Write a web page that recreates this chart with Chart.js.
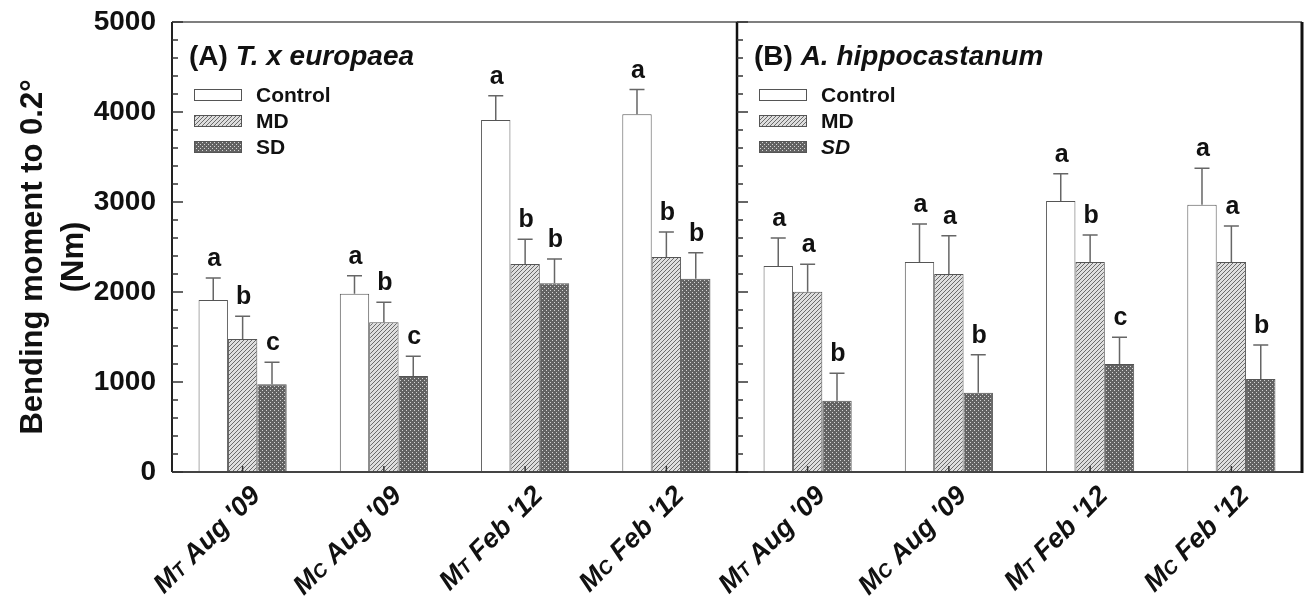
<!DOCTYPE html>
<html lang="en">
<head>
  <meta charset="UTF-8">
  <title>Bending moment to 0.2°</title>
  <script src="https://cdn.jsdelivr.net/npm/chart.js@4"></script>
  <style>
    body { margin: 0; background: #fff; }
    #chart { display: block; }
  </style>
</head>
<body>
  <canvas id="chart" width="1308" height="608"></canvas>

  <script>
    const FONT = '"Liberation Sans", Arial, sans-serif';

    // categories are the same in both panels
    const categories = ["MT Aug '09", "MC Aug '09", "MT Feb '12", "MC Feb '12"];
    const panelTitles = [["(A) ", "T. x europaea"], ["(B) ", "A. hippocastanum"]];
    const seriesNames = ['Control', 'MD', 'SD'];
    const yMajorTicks = [0, 1000, 2000, 3000, 4000, 5000];

    // (A) T. x europaea : means, standard errors, letters
    const controlA = [1910, 1980, 3910, 3975];
    const controlA_se = [245, 200, 270, 275];
    const controlA_letters = ['a', 'a', 'a', 'a'];
    const mdA = [1478, 1665, 2311, 2390];
    const mdA_se = [252, 220, 274, 277];
    const mdA_letters = ['b', 'b', 'b', 'b'];
    const sdA = [975, 1068, 2096, 2146];
    const sdA_se = [245, 217, 271, 289];
    const sdA_letters = ['c', 'c', 'b', 'b'];

    // (B) A. hippocastanum
    const controlB = [2290, 2333, 3011, 2970];
    const controlB_se = [310, 422, 302, 405];
    const controlB_letters = ['a', 'a', 'a', 'a'];
    const mdB = [2002, 2200, 2333, 2333];
    const mdB_se = [307, 424, 299, 399];
    const mdB_letters = ['a', 'a', 'b', 'a'];
    const sdB = [791, 880, 1200, 1032];
    const sdB_se = [307, 422, 298, 379];
    const sdB_letters = ['b', 'b', 'c', 'b'];

    function makePattern(kind) {
      const c = document.createElement('canvas');
      c.width = 4; c.height = 4;
      const g = c.getContext('2d');
      if (kind === 'md') {
        g.fillStyle = '#dedede';
        g.fillRect(0, 0, 4, 4);
        g.fillStyle = '#6a6a6a';
        for (let k = 0; k < 4; k++) g.fillRect(k, 3 - k, 1, 1);
      } else {
        g.fillStyle = '#626262';
        g.fillRect(0, 0, 4, 4);
        g.fillStyle = '#d4d4d4';
        g.fillRect(0, 0, 1, 1);
        g.fillRect(2, 2, 1, 1);
      }
      return g.createPattern(c, 'repeat');
    }

    const fills = ['#ffffff', makePattern('md'), makePattern('sd')];

    function line(ctx, x1, y1, x2, y2, w, color) {
      ctx.lineWidth = w;
      ctx.strokeStyle = color;
      ctx.beginPath();
      ctx.moveTo(x1, y1);
      ctx.lineTo(x2, y2);
      ctx.stroke();
    }

    const decor = {
      id: 'decor',
      afterDatasetsDraw(chart) {
        const { ctx, chartArea: a, scales: { x, y } } = chart;
        const mid = (x.getPixelForValue(3) + x.getPixelForValue(4)) / 2;
        ctx.save();

        // error bars and letters
        chart.data.datasets.forEach((ds, di) => {
          chart.getDatasetMeta(di).data.forEach((bar, i) => {
            const top = y.getPixelForValue(ds.data[i] + ds.se[i]);
            ctx.lineWidth = 1.5;
            ctx.strokeStyle = '#666';
            ctx.beginPath();
            ctx.moveTo(bar.x, bar.y);
            ctx.lineTo(bar.x, top);
            ctx.moveTo(bar.x - 7.5, top);
            ctx.lineTo(bar.x + 7.5, top);
            ctx.stroke();
            ctx.fillStyle = '#111';
            ctx.font = 'bold 25px ' + FONT;
            ctx.textAlign = 'center';
            ctx.textBaseline = 'alphabetic';
            ctx.fillText(ds.letters[i], bar.x + 1, top - 12);
          });
        });

        // frame and panel divider
        line(ctx, a.left, a.top, a.right, a.top, 1.5, '#555');
        line(ctx, a.left, a.bottom, a.right, a.bottom, 2, '#444');
        line(ctx, a.left, a.top, a.left, a.bottom, 2, '#222');
        line(ctx, a.right, a.top, a.right, a.bottom + 1, 3, '#111');
        line(ctx, mid, a.top, mid, a.bottom + 1, 2.5, '#111');

        // inward y ticks on both panels
        y.ticks.forEach(t => {
          const py = y.getPixelForValue(t.value);
          const len = yMajorTicks.includes(t.value) ? 11 : 6;
          [a.left, mid].forEach(px => line(ctx, px, py, px + len, py, 1.5, '#333'));
        });
        // inward x ticks
        x.ticks.forEach((t, i) => {
          const px = x.getPixelForValue(i);
          line(ctx, px, a.bottom, px, a.bottom - 6, 1.5, '#333');
        });

        // panel titles and legends
        [a.left, mid].forEach((px, p) => {
          ctx.fillStyle = '#111';
          ctx.textAlign = 'left';
          ctx.textBaseline = 'alphabetic';
          ctx.font = 'bold 28px ' + FONT;
          ctx.fillText(panelTitles[p][0], px + 17, a.top + 43);
          const w0 = ctx.measureText(panelTitles[p][0]).width;
          ctx.font = 'italic bold 28px ' + FONT;
          ctx.fillText(panelTitles[p][1], px + 17 + w0, a.top + 43);

          seriesNames.forEach((name, s) => {
            const cy = a.top + 73 + s * 26;
            ctx.fillStyle = fills[s];
            ctx.fillRect(px + 22, cy - 6, 48, 12);
            ctx.lineWidth = 1;
            ctx.strokeStyle = '#555';
            ctx.strokeRect(px + 22.5, cy - 5.5, 47, 11);
            ctx.fillStyle = '#111';
            ctx.font = (p === 1 && s === 2 ? 'italic ' : '') + 'bold 21px ' + FONT;
            ctx.textBaseline = 'middle';
            ctx.fillText(name, px + 84, cy + 1);
          });
        });

        // rotated category labels (second letter as small capital)
        chart.data.labels.forEach((lab, i) => {
          const px = x.getPixelForValue(i);
          const parts = [[lab[0], 27], [lab[1], 19], [lab.slice(2), 27]];
          ctx.save();
          ctx.translate(px + 19, a.bottom + 25);
          ctx.rotate(-Math.PI / 4);
          ctx.fillStyle = '#111';
          ctx.textAlign = 'left';
          ctx.textBaseline = 'alphabetic';
          let total = 0;
          parts.forEach(([t, sz]) => {
            ctx.font = 'italic bold ' + sz + 'px ' + FONT;
            total += ctx.measureText(t).width;
          });
          let cx = -total;
          parts.forEach(([t, sz]) => {
            ctx.font = 'italic bold ' + sz + 'px ' + FONT;
            ctx.fillText(t, cx, 0);
            cx += ctx.measureText(t).width;
          });
          ctx.restore();
        });

        // y axis title
        ctx.font = 'bold 31px ' + FONT;
        ctx.fillStyle = '#111';
        ctx.textAlign = 'center';
        ctx.textBaseline = 'middle';
        [['Bending moment to 0.2°', 33], ['(Nm)', 74]].forEach(([t, tx]) => {
          ctx.save();
          ctx.translate(tx, 257);
          ctx.rotate(-Math.PI / 2);
          ctx.fillText(t, 0, 0);
          ctx.restore();
        });

        ctx.restore();
      }
    };

    const labels = [...categories, ...categories];

    new Chart(document.getElementById('chart'), {
      type: 'bar',
      data: {
        labels: labels,
        datasets: [
          { label: seriesNames[0], data: [...controlA, ...controlB], se: [...controlA_se, ...controlB_se],
            letters: [...controlA_letters, ...controlB_letters], backgroundColor: fills[0] },
          { label: seriesNames[1], data: [...mdA, ...mdB], se: [...mdA_se, ...mdB_se],
            letters: [...mdA_letters, ...mdB_letters], backgroundColor: fills[1] },
          { label: seriesNames[2], data: [...sdA, ...sdB], se: [...sdA_se, ...sdB_se],
            letters: [...sdA_letters, ...sdB_letters], backgroundColor: fills[2] }
        ].map(ds => Object.assign(ds, {
          borderColor: '#555', borderWidth: 1, barPercentage: 1, categoryPercentage: 0.624
        }))
      },
      options: {
        responsive: false,
        animation: false,
        layout: { padding: { top: 22, right: 6, left: 0, bottom: 0 } },
        plugins: { legend: { display: false }, tooltip: { enabled: false } },
        scales: {
          x: {
            grid: { display: false, drawTicks: false },
            border: { display: false },
            ticks: { display: false },
            afterFit: s => { s.height = 136; s.paddingLeft = 0; s.paddingRight = 0; }
          },
          y: {
            min: 0,
            max: 5000,
            grid: { display: false, drawTicks: false },
            border: { display: false },
            ticks: {
              stepSize: 200,
              autoSkip: false,
              padding: 16,
              color: '#111',
              font: { family: FONT, size: 28, weight: 'bold' },
              callback: v => yMajorTicks.includes(v) ? v : ''
            },
            afterFit: s => { s.width = 172; s.paddingTop = 0; s.paddingBottom = 0; }
          }
        }
      },
      plugins: [decor]
    });
  </script>
</body>
</html>
